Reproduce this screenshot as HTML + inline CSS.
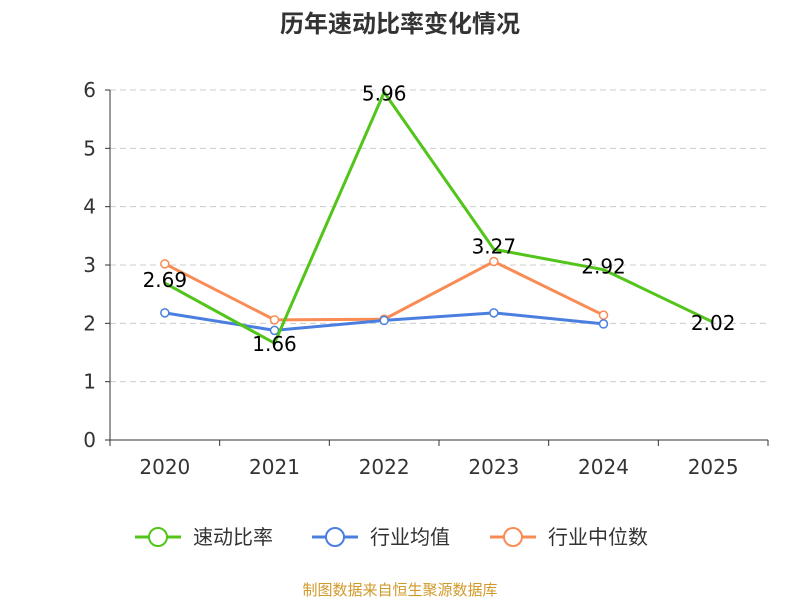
<!DOCTYPE html>
<html><head><meta charset="utf-8"><style>
body{margin:0;background:#fff;}
svg{display:block;font-family:"DejaVu Sans","Noto Sans CJK SC",sans-serif;}
</style></head><body>
<svg id="chart" width="800" height="600">
<text x="400" y="32" text-anchor="middle" font-size="24" font-weight="bold" fill="#333">历年速动比率变化情况</text>
<g id="grid"></g><g id="axes"></g><g id="series"></g><g id="labels"></g>
<g id="legend"></g>
<text x="400" y="595" text-anchor="middle" font-size="15" fill="#d09a2a">制图数据来自恒生聚源数据库</text>
</svg>
<script>
const categories=["2020","2021","2022","2023","2024","2025"];
const quickRatio=[2.69,1.66,5.96,3.27,2.92,2.02];
const industryAvg=[2.18,1.88,2.05,2.18,1.99];
const industryMedian=[3.02,2.06,2.07,3.06,2.14];
const yTicks=[0,1,2,3,4,5,6];
const seriesNames=["速动比率","行业均值","行业中位数"];
const NS="http://www.w3.org/2000/svg";
const x0=110,x1=768,y0=440,y1=90;
const bw=(x1-x0)/categories.length;
const xs=i=>x0+bw*(i+0.5);
const ys=v=>y0-(v/6)*(y0-y1);
function mk(t,a,p){const e=document.createElementNS(NS,t);for(const k in a)e.setAttribute(k,a[k]);p.appendChild(e);return e;}
const grid=document.getElementById('grid'),axes=document.getElementById('axes');
yTicks.forEach(t=>{
 if(t>0){const l=mk('line',{x1:x0,x2:x1,y1:ys(t),y2:ys(t),stroke:'#ccc','stroke-dasharray':'6,4'},grid);
 
 }
 mk('line',{x1:x0-5,x2:x0,y1:ys(t),y2:ys(t),stroke:'#333'},axes);
 const tx=mk('text',{x:x0-14,y:ys(t)+7,'text-anchor':'end','font-size':20,fill:'#333'},axes);tx.textContent=t;
 
 
});
const ya=mk('line',{x1:x0,x2:x0,y1:y1,y2:y0,stroke:'#333'},axes);


const xa=mk('line',{x1:x0,x2:x1,y1:y0,y2:y0,stroke:'#333'},axes);


for(let i=0;i<=categories.length;i++)mk('line',{x1:x0+bw*i,x2:x0+bw*i,y1:y0,y2:y0+6,stroke:'#333'},axes);
categories.forEach((c,i)=>{const t=mk('text',{x:xs(i),y:y0+34,'text-anchor':'middle','font-size':20,fill:'#333'},axes);t.textContent=c;
 
 });
const sg=document.getElementById('series');
function draw(data,color,name,markers){
 const p=mk('polyline',{points:data.map((v,i)=>xs(i)+','+ys(v)).join(' '),fill:'none',stroke:color,'stroke-width':3},sg);
 
 
 if(markers)data.forEach((v,i)=>{const c=mk('circle',{cx:xs(i),cy:ys(v),r:4,fill:'#fff',stroke:color,'stroke-width':1.5},sg);
  
  });
}
draw(industryMedian,'#f98c55','industry-median',true);
draw(industryAvg,'#4a7fe0','industry-average',true);
draw(quickRatio,'#52c41a','quick-ratio',false);
const lg=document.getElementById('labels');
quickRatio.forEach((v,i)=>{const t=mk('text',{x:xs(i),y:ys(v)+((i===0||i===3||i===4)?4:8),'text-anchor':'middle','font-size':20,fill:'#000'},lg);t.textContent=v.toFixed(2);
 
 });
const leg=document.getElementById('legend');
const legX=[135,312,490],colors=['#52c41a','#4a7fe0','#f98c55'];
seriesNames.forEach((n,i)=>{const g=mk('g',{},leg);
 
 
 mk('line',{x1:legX[i],x2:legX[i]+46,y1:537,y2:537,stroke:colors[i],'stroke-width':3},g);
 mk('circle',{cx:legX[i]+23,cy:537,r:9,fill:'#fff',stroke:colors[i],'stroke-width':2},g);
 const t=mk('text',{x:legX[i]+58,y:544,'font-size':20,fill:'#333'},g);t.textContent=n;});
</script>
</body></html>
